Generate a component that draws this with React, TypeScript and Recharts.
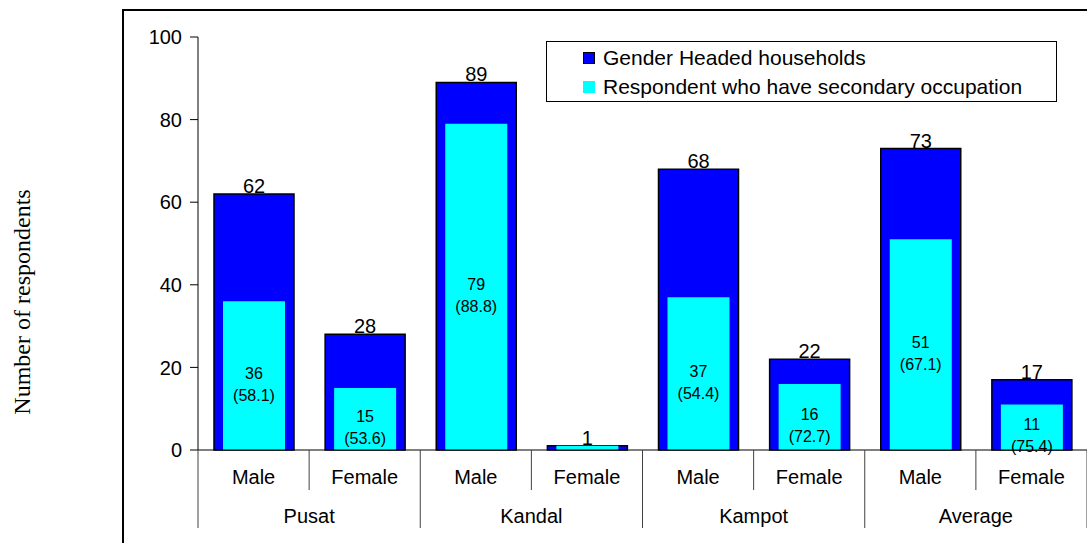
import React from 'react';
import { BarChart, Bar, XAxis, YAxis, LabelList, Legend, Label } from 'recharts';

const regions = ['Pusat', 'Kandal', 'Kampot', 'Average'];
const genders = ['Male', 'Female', 'Male', 'Female', 'Male', 'Female', 'Male', 'Female'];
const headedHouseholds = [62, 28, 89, 1, 68, 22, 73, 17];
const secondaryOccupation = [36, 15, 79, 1, 37, 16, 51, 11];
const secondaryPct: (number | null)[] = [58.1, 53.6, 88.8, null, 54.4, 72.7, 67.1, 75.4];
const yTicks = [0, 20, 40, 60, 80, 100];

const data = genders.map((gender, i) => ({
  gender,
  headed: headedHouseholds[i],
  secondary: secondaryOccupation[i],
}));

const FONT = '"Liberation Sans", Arial, sans-serif';
const W = 1087;
const H = 543;

// two-row category axis: gender on top, region below, with divider lines
const GenderTick = (props: any) => {
  const { x, y, payload } = props;
  const i: number = payload?.index ?? props.index ?? 0;
  const half: number = payload?.offset || (W - 198) / genders.length / 2;
  const line = { stroke: '#404040', strokeWidth: 1 };
  return (
    <g>
      <text x={x} y={y + 34} textAnchor="middle" fontSize={20} fontFamily={FONT} fill="#000">
        {payload.value}
      </text>
      {i % 2 === 0 && (
        <>
          <line x1={x + half} x2={x + half} y1={y} y2={y + 40} {...line} />
          <line x1={x - half} x2={x - half} y1={y} y2={y + 78} {...line} />
          <text x={x + half} y={y + 73} textAnchor="middle" fontSize={20} fontFamily={FONT} fill="#000">
            {regions[i / 2]}
          </text>
        </>
      )}
      {i === genders.length - 1 && <line x1={x + half} x2={x + half} y1={y} y2={y + 78} {...line} />}
    </g>
  );
};

const InnerLabel = (props: any) => {
  const { x, y, width, height, index } = props;
  const pct = secondaryPct[index];
  if (pct == null) return null;
  const cx = x + width / 2;
  const cy = y + height / 2;
  return (
    <text x={cx} y={cy + 3} textAnchor="middle" fontSize={16} fontFamily={FONT} fill="#000">
      <tspan x={cx}>{secondaryOccupation[index]}</tspan>
      <tspan x={cx} dy={22}>({pct.toFixed(1)})</tspan>
    </text>
  );
};

const LegendBox = () => (
  <div
    style={{
      boxSizing: 'border-box',
      width: 511,
      height: 61,
      border: '1px solid #000',
      background: '#fff',
      fontFamily: FONT,
      fontSize: 21,
      paddingTop: 1,
    }}
  >
    {[
      { name: 'Gender Headed households', color: '#0000FF', border: true },
      { name: 'Respondent who have secondary occupation', color: '#00FFFF', border: false },
    ].map((item) => (
      <div key={item.name} style={{ display: 'flex', alignItems: 'center', height: 29, paddingLeft: 36 }}>
        <span
          style={{
            boxSizing: 'border-box',
            width: 12,
            height: 12,
            background: item.color,
            border: item.border ? '1.5px solid #000' : 'none',
            marginRight: 8,
          }}
        />
        <span style={{ lineHeight: '29px', color: '#000' }}>{item.name}</span>
      </div>
    ))}
  </div>
);

export default function App() {
  return (
    <div style={{ position: 'fixed', left: 0, top: 0, width: W, height: H, background: '#fff', overflow: 'hidden' }}>
      <div
        style={{
          position: 'absolute',
          left: 122,
          top: 9,
          width: 1100,
          height: 700,
          border: '2px solid #000',
        }}
      />
      <div style={{ position: 'absolute', left: 0, top: 0 }}>
        <BarChart width={W} height={H} data={data} margin={{ top: 37, right: 0, bottom: 0, left: 0 }}>
          <XAxis
            xAxisId="main"
            dataKey="gender"
            height={93}
            interval={0}
            tickLine={false}
            tickSize={0}
            tickMargin={0}
            axisLine={{ stroke: '#000', strokeWidth: 1 }}
            tick={<GenderTick />}
          />
          <XAxis xAxisId="inner" dataKey="gender" height={0} hide />
          <YAxis
            width={198}
            domain={[0, 100]}
            ticks={yTicks}
            tickSize={8}
            tickMargin={8}
            axisLine={{ stroke: '#000', strokeWidth: 1 }}
            tickLine={{ stroke: '#000' }}
            tick={{ fontSize: 20, fontFamily: FONT, fill: '#000' }}
          >
            <Label
              content={() => (
                <text
                  x={30}
                  y={302}
                  transform="rotate(-90 30 302)"
                  textAnchor="middle"
                  fontSize={24}
                  fontFamily='"Liberation Serif", "Times New Roman", serif'
                  fill="#000"
                >
                  Number of respondents
                </text>
              )}
            />
          </YAxis>
          <Legend
            layout="vertical"
            align="center"
            verticalAlign="middle"
            content={<LegendBox />}
            wrapperStyle={{ left: 546, top: 41, width: 511, height: 61 }}
          />
          <Bar
            xAxisId="main"
            dataKey="headed"
            name="Gender Headed households"
            barSize={80}
            fill="#0000FF"
            stroke="#000"
            strokeWidth={1.5}
            isAnimationActive={false}
          >
            <LabelList dataKey="headed" position="top" offset={1} fontSize={20} fontFamily={FONT} fill="#000" />
          </Bar>
          <Bar
            xAxisId="inner"
            dataKey="secondary"
            name="Respondent who have secondary occupation"
            barSize={62}
            fill="#00FFFF"
            isAnimationActive={false}
          >
            <LabelList dataKey="secondary" content={<InnerLabel />} />
          </Bar>
        </BarChart>
      </div>
    </div>
  );
}
